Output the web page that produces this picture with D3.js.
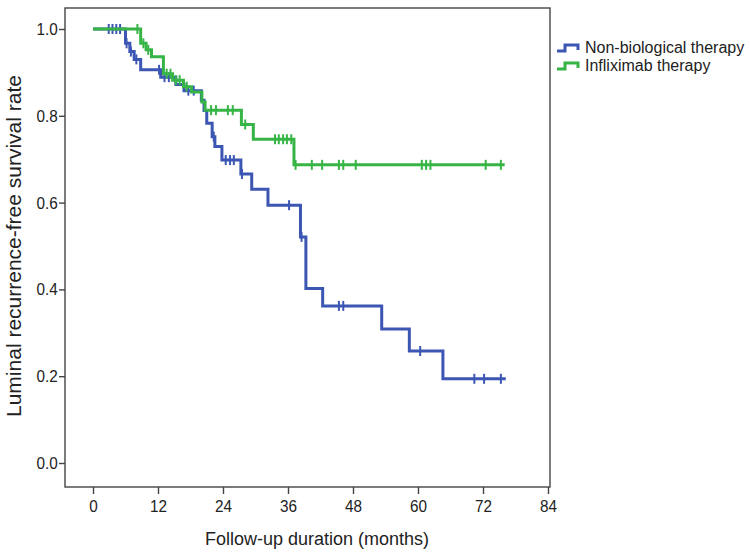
<!DOCTYPE html>
<html>
<head>
<meta charset="utf-8">
<script src="https://cdn.jsdelivr.net/npm/d3@7"></script>
<style>
body { margin: 0; background: #fff; }
text { font-family: "Liberation Sans", Arial, sans-serif; fill: #222; }
</style>
</head>
<body>
<svg width="750" height="554"></svg>
<script>
// Non-biological therapy: event times (months), survival after each step, censored times
let nonBioTimes = [0, 6.0, 6.8, 7.6, 8.8, 12.5, 15.3, 16.8, 20.0, 20.5, 21.0, 22.0, 22.5, 23.8, 27.3, 29.3, 32.3, 38.3, 39.3, 42.4, 53.3, 58.4, 64.6];
let nonBioSurv = [1.0, 0.967, 0.948, 0.930, 0.906, 0.889, 0.872, 0.858, 0.836, 0.812, 0.783, 0.752, 0.729, 0.698, 0.666, 0.631, 0.594, 0.521, 0.402, 0.362, 0.309, 0.258, 0.194];
let nonBioCensor = [2.9, 3.6, 4.3, 5.0, 6.2, 7.0, 8.0, 12.2, 13.2, 14.0, 17.6, 18.6, 22.3, 24.5, 25.3, 26.0, 27.5, 36.2, 38.5, 45.4, 46.2, 60.4, 70.4, 72.2, 75.3];
let nonBioEnd = 76.2;

// Infliximab therapy
let ifxTimes = [0, 8.8, 9.8, 10.8, 13.0, 14.7, 16.7, 18.2, 20.1, 20.7, 27.4, 29.6, 37.1];
let ifxSurv = [1.0, 0.967, 0.952, 0.936, 0.897, 0.882, 0.867, 0.855, 0.832, 0.813, 0.780, 0.746, 0.687];
let ifxCensor = [8.2, 9.3, 10.2, 13.6, 14.3, 15.3, 16.0, 17.3, 21.8, 22.7, 24.9, 25.8, 28.1, 33.6, 34.3, 35.1, 35.8, 36.6, 37.4, 40.4, 42.3, 45.4, 46.2, 48.5, 60.7, 61.5, 62.3, 72.5, 75.3];
let ifxEnd = 76.0;

let xTicks = [0, 12, 24, 36, 48, 60, 72, 84];
let yTicks = [0.0, 0.2, 0.4, 0.6, 0.8, 1.0];
let groupNames = ["Non-biological therapy", "Infliximab therapy"];
let groupColors = ["#3c56b4", "#36b546"];

var svg = d3.select("svg");

var frame = { left: 65, right: 550, top: 8, bottom: 487 };

var x = d3.scaleLinear().domain([0, 84]).range([93, 548]);
var y = d3.scaleLinear().domain([0, 1]).range([463, 29]);

// frame
svg.append("rect")
    .attr("x", frame.left).attr("y", frame.top)
    .attr("width", frame.right - frame.left)
    .attr("height", frame.bottom - frame.top)
    .attr("fill", "none")
    .attr("stroke", "#444")
    .attr("stroke-width", 1.4);

// axes
var xAxis = svg.append("g")
    .attr("transform", "translate(0," + frame.bottom + ")")
    .call(d3.axisBottom(x).tickValues(xTicks).tickSize(7).tickSizeOuter(0).tickFormat(d3.format("d")));

var yAxis = svg.append("g")
    .attr("transform", "translate(" + frame.left + ",0)")
    .call(d3.axisLeft(y).tickValues(yTicks).tickSize(6).tickSizeOuter(0).tickFormat(d3.format(".1f")));

[xAxis, yAxis].forEach(function(a) {
    a.select(".domain").remove();
    a.selectAll("line").attr("stroke", "#444").attr("stroke-width", 1.4);
    a.selectAll("text")
        .attr("font-size", 17)
        .attr("fill", "#333")
        .attr("font-family", "Liberation Sans, Arial, sans-serif");
});
xAxis.selectAll("text").attr("dy", "0.9em").attr("transform", "scale(0.9,1)");
yAxis.selectAll("text").attr("x", -8).attr("transform", "scale(0.9,1)");

// axis titles
svg.append("text")
    .attr("x", 317).attr("y", 545)
    .attr("text-anchor", "middle")
    .attr("font-size", 18)
    .text("Follow-up duration (months)");

svg.append("text")
    .attr("transform", "translate(21,246) rotate(-90)")
    .attr("text-anchor", "middle")
    .attr("font-size", 21)
    .text("Luminal recurrence-free survival rate");

// curves
function survAt(times, surv, t) {
    var i = d3.bisectRight(times, t) - 1;
    return surv[Math.max(i, 0)];
}

var line = d3.line()
    .x(function(d) { return x(d[0]); })
    .y(function(d) { return y(d[1]); })
    .curve(d3.curveStepAfter);

var groups = [
    { times: nonBioTimes, surv: nonBioSurv, censor: nonBioCensor, end: nonBioEnd },
    { times: ifxTimes, surv: ifxSurv, censor: ifxCensor, end: ifxEnd }
];

groups.forEach(function(g, k) {
    var pts = g.times.map(function(t, i) { return [t, g.surv[i]]; });
    pts.push([g.end, g.surv[g.surv.length - 1]]);

    svg.append("path")
        .datum(pts)
        .attr("fill", "none")
        .attr("stroke", groupColors[k])
        .attr("stroke-width", 3)
        .attr("d", line);

    svg.selectAll(".censor" + k)
        .data(g.censor)
        .enter()
        .append("line")
        .attr("class", "censor" + k)
        .attr("x1", function(d) { return x(d); })
        .attr("x2", function(d) { return x(d); })
        .attr("y1", function(d) { return y(survAt(g.times, g.surv, d)) - 5; })
        .attr("y2", function(d) { return y(survAt(g.times, g.surv, d)) + 5; })
        .attr("stroke", groupColors[k])
        .attr("stroke-width", 2);
});

// legend
var legend = svg.append("g").attr("transform", "translate(557,45)");
groupNames.forEach(function(name, i) {
    var row = legend.append("g").attr("transform", "translate(0," + (i * 18) + ")");
    row.append("path")
        .attr("d", "M0,6H8V0H21V5")
        .attr("fill", "none")
        .attr("stroke", groupColors[i])
        .attr("stroke-width", 3);
    row.append("text")
        .attr("x", 28).attr("y", 8)
        .attr("font-size", 16)
        .text(name);
});
</script>
</body>
</html>
